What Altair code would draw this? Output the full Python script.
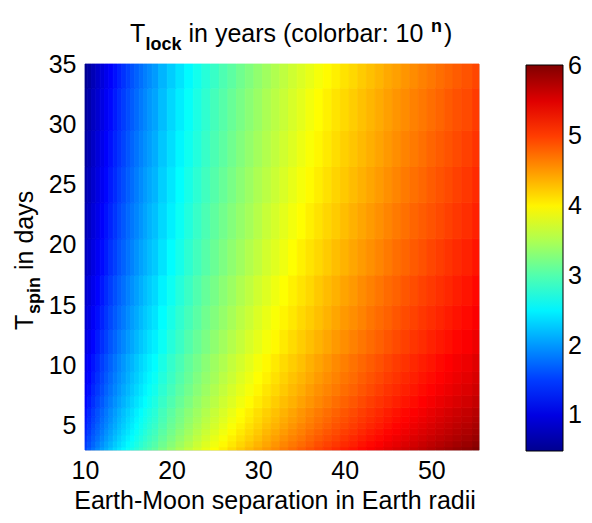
import altair as alt
import pandas as pd

# Earth-Moon separation (Earth radii) at which the colour was read
separation = [10, 10.5, 11, 11.5, 12, 12.5, 13, 13.5, 14, 14.5, 15, 15.5, 16, 16.5,
              17, 17.5, 18, 19, 20, 21, 22, 23, 24, 25, 26, 27, 28, 29, 30, 31,
              32, 33, 34, 35, 36, 38, 40, 42, 44, 46, 48, 50, 52, 54, 55.5]
# extra columns read in between, on the right-hand side
separation_extra = [37, 39, 41, 43, 45, 47, 49, 51, 53]
# T_spin (days) at which the colour was read
spin_days = [3, 3.5, 4, 4.5, 5, 5.5, 6, 7, 8, 9, 10, 12, 14, 16, 19, 22, 25, 28, 31, 35]

log_tlock = [
    [1.55, 1.68, 1.80, 1.92, 2.03, 2.13, 2.24, 2.34, 2.43, 2.52, 2.61, 2.70, 2.78, 2.86, 2.94, 3.01, 3.09, 3.23, 3.36, 3.49, 3.61, 3.72, 3.83, 3.94, 4.04, 4.14, 4.24, 4.33, 4.42, 4.50, 4.58, 4.66, 4.74, 4.82, 4.89, 5.03, 5.17, 5.29, 5.41, 5.53, 5.64, 5.75, 5.85, 5.95, 6.02],
    [1.49, 1.61, 1.73, 1.85, 1.96, 2.07, 2.17, 2.27, 2.36, 2.45, 2.54, 2.63, 2.71, 2.79, 2.87, 2.94, 3.02, 3.16, 3.29, 3.42, 3.54, 3.66, 3.77, 3.87, 3.98, 4.07, 4.17, 4.26, 4.35, 4.43, 4.52, 4.60, 4.68, 4.75, 4.82, 4.97, 5.10, 5.23, 5.35, 5.46, 5.57, 5.68, 5.78, 5.88, 5.95],
    [1.43, 1.56, 1.68, 1.79, 1.90, 2.01, 2.11, 2.21, 2.31, 2.40, 2.49, 2.57, 2.65, 2.73, 2.81, 2.89, 2.96, 3.10, 3.23, 3.36, 3.48, 3.60, 3.71, 3.82, 3.92, 4.02, 4.11, 4.20, 4.29, 4.38, 4.46, 4.54, 4.62, 4.69, 4.77, 4.91, 5.04, 5.17, 5.29, 5.41, 5.52, 5.62, 5.72, 5.82, 5.89],
    [1.38, 1.50, 1.63, 1.74, 1.85, 1.96, 2.06, 2.16, 2.25, 2.35, 2.43, 2.52, 2.60, 2.68, 2.76, 2.84, 2.91, 3.05, 3.18, 3.31, 3.43, 3.55, 3.66, 3.77, 3.87, 3.97, 4.06, 4.15, 4.24, 4.33, 4.41, 4.49, 4.57, 4.64, 4.72, 4.86, 4.99, 5.12, 5.24, 5.35, 5.46, 5.57, 5.67, 5.77, 5.84],
    [1.33, 1.46, 1.58, 1.70, 1.81, 1.91, 2.02, 2.11, 2.21, 2.30, 2.39, 2.47, 2.56, 2.64, 2.71, 2.79, 2.86, 3.00, 3.14, 3.26, 3.39, 3.50, 3.61, 3.72, 3.82, 3.92, 4.01, 4.11, 4.19, 4.28, 4.36, 4.44, 4.52, 4.60, 4.67, 4.81, 4.94, 5.07, 5.19, 5.31, 5.42, 5.53, 5.63, 5.73, 5.80],
    [1.29, 1.42, 1.54, 1.65, 1.77, 1.87, 1.97, 2.07, 2.17, 2.26, 2.35, 2.43, 2.52, 2.60, 2.67, 2.75, 2.82, 2.96, 3.10, 3.22, 3.35, 3.46, 3.57, 3.68, 3.78, 3.88, 3.97, 4.06, 4.15, 4.24, 4.32, 4.40, 4.48, 4.55, 4.63, 4.77, 4.90, 5.03, 5.15, 5.27, 5.38, 5.48, 5.59, 5.68, 5.76],
    [1.25, 1.38, 1.50, 1.62, 1.73, 1.83, 1.94, 2.03, 2.13, 2.22, 2.31, 2.39, 2.48, 2.56, 2.64, 2.71, 2.78, 2.93, 3.06, 3.19, 3.31, 3.42, 3.53, 3.64, 3.74, 3.84, 3.94, 4.03, 4.12, 4.20, 4.28, 4.36, 4.44, 4.52, 4.59, 4.73, 4.86, 4.99, 5.11, 5.23, 5.34, 5.45, 5.55, 5.65, 5.72],
    [1.19, 1.31, 1.43, 1.55, 1.66, 1.77, 1.87, 1.97, 2.06, 2.15, 2.24, 2.33, 2.41, 2.49, 2.57, 2.64, 2.72, 2.86, 2.99, 3.12, 3.24, 3.36, 3.47, 3.57, 3.68, 3.77, 3.87, 3.96, 4.05, 4.13, 4.22, 4.30, 4.37, 4.45, 4.52, 4.66, 4.80, 4.93, 5.05, 5.16, 5.27, 5.38, 5.48, 5.58, 5.65],
    [1.13, 1.25, 1.38, 1.49, 1.60, 1.71, 1.81, 1.91, 2.00, 2.10, 2.18, 2.27, 2.35, 2.43, 2.51, 2.59, 2.66, 2.80, 2.93, 3.06, 3.18, 3.30, 3.41, 3.52, 3.62, 3.72, 3.81, 3.90, 3.99, 4.08, 4.16, 4.24, 4.32, 4.39, 4.47, 4.61, 4.74, 4.87, 4.99, 5.10, 5.21, 5.32, 5.42, 5.52, 5.59],
    [1.08, 1.20, 1.32, 1.44, 1.55, 1.66, 1.76, 1.86, 1.95, 2.04, 2.13, 2.22, 2.30, 2.38, 2.46, 2.53, 2.61, 2.75, 2.88, 3.01, 3.13, 3.25, 3.36, 3.46, 3.57, 3.66, 3.76, 3.85, 3.94, 4.02, 4.11, 4.19, 4.27, 4.34, 4.41, 4.56, 4.69, 4.82, 4.94, 5.05, 5.16, 5.27, 5.37, 5.47, 5.54],
    [1.03, 1.16, 1.28, 1.39, 1.51, 1.61, 1.71, 1.81, 1.91, 2.00, 2.09, 2.17, 2.26, 2.34, 2.41, 2.49, 2.56, 2.70, 2.84, 2.96, 3.09, 3.20, 3.31, 3.42, 3.52, 3.62, 3.71, 3.80, 3.89, 3.98, 4.06, 4.14, 4.22, 4.29, 4.37, 4.51, 4.64, 4.77, 4.89, 5.01, 5.12, 5.22, 5.33, 5.42, 5.50],
    [0.95, 1.08, 1.20, 1.32, 1.43, 1.53, 1.64, 1.73, 1.83, 1.92, 2.01, 2.09, 2.18, 2.26, 2.33, 2.41, 2.48, 2.62, 2.76, 2.88, 3.01, 3.12, 3.23, 3.34, 3.44, 3.54, 3.63, 3.73, 3.81, 3.90, 3.98, 4.06, 4.14, 4.22, 4.29, 4.43, 4.56, 4.69, 4.81, 4.93, 5.04, 5.15, 5.25, 5.35, 5.42],
    [0.88, 1.01, 1.13, 1.25, 1.36, 1.47, 1.57, 1.67, 1.76, 1.85, 1.94, 2.03, 2.11, 2.19, 2.27, 2.34, 2.42, 2.56, 2.69, 2.82, 2.94, 3.05, 3.17, 3.27, 3.37, 3.47, 3.57, 3.66, 3.75, 3.83, 3.92, 4.00, 4.07, 4.15, 4.22, 4.36, 4.50, 4.62, 4.75, 4.86, 4.97, 5.08, 5.18, 5.28, 5.35],
    [0.83, 0.95, 1.07, 1.19, 1.30, 1.41, 1.51, 1.61, 1.70, 1.79, 1.88, 1.97, 2.05, 2.13, 2.21, 2.28, 2.36, 2.50, 2.63, 2.76, 2.88, 3.00, 3.11, 3.21, 3.32, 3.41, 3.51, 3.60, 3.69, 3.77, 3.86, 3.94, 4.02, 4.09, 4.16, 4.31, 4.44, 4.57, 4.69, 4.80, 4.91, 5.02, 5.12, 5.22, 5.29],
    [0.75, 0.88, 1.00, 1.12, 1.23, 1.33, 1.44, 1.53, 1.63, 1.72, 1.81, 1.89, 1.98, 2.06, 2.13, 2.21, 2.28, 2.42, 2.56, 2.68, 2.81, 2.92, 3.03, 3.14, 3.24, 3.34, 3.43, 3.53, 3.61, 3.70, 3.78, 3.86, 3.94, 4.02, 4.09, 4.23, 4.36, 4.49, 4.61, 4.73, 4.84, 4.95, 5.05, 5.15, 5.22],
    [0.69, 0.82, 0.94, 1.05, 1.16, 1.27, 1.37, 1.47, 1.57, 1.66, 1.75, 1.83, 1.91, 1.99, 2.07, 2.15, 2.22, 2.36, 2.49, 2.62, 2.74, 2.86, 2.97, 3.08, 3.18, 3.28, 3.37, 3.46, 3.55, 3.64, 3.72, 3.80, 3.88, 3.95, 4.03, 4.17, 4.30, 4.43, 4.55, 4.67, 4.78, 4.88, 4.98, 5.08, 5.15],
    [0.63, 0.76, 0.88, 1.00, 1.11, 1.21, 1.32, 1.41, 1.51, 1.60, 1.69, 1.77, 1.86, 1.94, 2.02, 2.09, 2.16, 2.31, 2.44, 2.57, 2.69, 2.80, 2.91, 3.02, 3.12, 3.22, 3.32, 3.41, 3.50, 3.58, 3.66, 3.74, 3.82, 3.90, 3.97, 4.11, 4.24, 4.37, 4.49, 4.61, 4.72, 4.83, 4.93, 5.03, 5.10],
    [0.58, 0.71, 0.83, 0.95, 1.06, 1.16, 1.27, 1.37, 1.46, 1.55, 1.64, 1.73, 1.81, 1.89, 1.97, 2.04, 2.12, 2.26, 2.39, 2.52, 2.64, 2.75, 2.86, 2.97, 3.07, 3.17, 3.27, 3.36, 3.45, 3.53, 3.61, 3.69, 3.77, 3.85, 3.92, 4.06, 4.20, 4.32, 4.44, 4.56, 4.67, 4.78, 4.88, 4.98, 5.05],
    [0.54, 0.67, 0.79, 0.90, 1.01, 1.12, 1.22, 1.32, 1.42, 1.51, 1.60, 1.68, 1.76, 1.84, 1.92, 2.00, 2.07, 2.21, 2.35, 2.47, 2.59, 2.71, 2.82, 2.93, 3.03, 3.13, 3.22, 3.31, 3.40, 3.49, 3.57, 3.65, 3.73, 3.80, 3.88, 4.02, 4.15, 4.28, 4.40, 4.52, 4.63, 4.73, 4.84, 4.93, 5.01],
    [0.49, 0.61, 0.73, 0.85, 0.96, 1.07, 1.17, 1.27, 1.36, 1.45, 1.54, 1.63, 1.71, 1.79, 1.87, 1.94, 2.02, 2.16, 2.29, 2.42, 2.54, 2.66, 2.77, 2.87, 2.98, 3.07, 3.17, 3.26, 3.35, 3.43, 3.52, 3.60, 3.68, 3.75, 3.82, 3.97, 4.10, 4.23, 4.35, 4.46, 4.57, 4.68, 4.78, 4.88, 4.95],
]

# log10(T_lock / years) at the separation_extra columns, one row per spin_days entry
log_tlock_extra = [
    [4.96, 5.10, 5.23, 5.35, 5.47, 5.59, 5.69, 5.80, 5.90],
    [4.90, 5.03, 5.16, 5.29, 5.41, 5.52, 5.63, 5.73, 5.83],
    [4.84, 4.97, 5.11, 5.23, 5.35, 5.46, 5.57, 5.67, 5.77],
    [4.79, 4.92, 5.05, 5.18, 5.30, 5.41, 5.52, 5.62, 5.72],
    [4.74, 4.88, 5.01, 5.13, 5.25, 5.36, 5.47, 5.58, 5.68],
    [4.70, 4.84, 4.97, 5.09, 5.21, 5.32, 5.43, 5.54, 5.64],
    [4.66, 4.80, 4.93, 5.05, 5.17, 5.29, 5.39, 5.50, 5.60],
    [4.59, 4.73, 4.86, 4.99, 5.10, 5.22, 5.33, 5.43, 5.53],
    [4.54, 4.67, 4.80, 4.93, 5.05, 5.16, 5.27, 5.37, 5.47],
    [4.49, 4.62, 4.75, 4.88, 5.00, 5.11, 5.22, 5.32, 5.42],
    [4.44, 4.58, 4.71, 4.83, 4.95, 5.06, 5.17, 5.28, 5.38],
    [4.36, 4.50, 4.63, 4.75, 4.87, 4.98, 5.09, 5.20, 5.30],
    [4.29, 4.43, 4.56, 4.69, 4.80, 4.92, 5.03, 5.13, 5.23],
    [4.24, 4.37, 4.50, 4.63, 4.75, 4.86, 4.97, 5.07, 5.17],
    [4.16, 4.30, 4.43, 4.55, 4.67, 4.78, 4.89, 5.00, 5.10],
    [4.10, 4.23, 4.37, 4.49, 4.61, 4.72, 4.83, 4.93, 5.03],
    [4.04, 4.18, 4.31, 4.43, 4.55, 4.67, 4.77, 4.88, 4.98],
    [3.99, 4.13, 4.26, 4.38, 4.50, 4.62, 4.72, 4.83, 4.93],
    [3.95, 4.09, 4.22, 4.34, 4.46, 4.57, 4.68, 4.78, 4.89],
    [3.90, 4.03, 4.16, 4.29, 4.41, 4.52, 4.63, 4.73, 4.83],
]

x_ticks = [10, 20, 30, 40, 50]
y_ticks = [5, 10, 15, 20, 25, 30, 35]
bar_ticks = [1, 2, 3, 4, 5, 6]

assert len(log_tlock) == len(spin_days) == len(log_tlock_extra)
assert all(len(r) == len(separation) for r in log_tlock)
assert all(len(r) == len(separation_extra) for r in log_tlock_extra)

FONT = "Liberation Sans"
FS = 25

# merge the two sets of columns, ordered by separation
columns = sorted(separation + separation_extra)
table = []
for i in range(len(spin_days)):
    row = dict(zip(separation, log_tlock[i]))
    row.update(zip(separation_extra, log_tlock_extra[i]))
    table.append([row[a] for a in columns])


def edges(c):
    mids = [(a + b) / 2 for a, b in zip(c[:-1], c[1:])]
    return [c[0]] + mids + [c[-1]]


xe = edges(columns)
ye = edges(spin_days)
rows = []
for i, _ in enumerate(spin_days):
    for j, _ in enumerate(columns):
        v = table[i][j]
        rows.append({"x": xe[j], "x2": xe[j + 1], "y": ye[i], "y2": ye[i + 1],
                     "v": v, "edge": v})
df = pd.DataFrame(rows)

vmin = min(min(r) for r in table)
vmax = max(max(r) for r in table)
jet_stops = [vmin + f * (vmax - vmin) for f in (0, 1 / 8, 3 / 8, 5 / 8, 7 / 8, 1)]
jet_colors = ["#00008f", "#0000ff", "#00ffff", "#ffff00", "#ff0000", "#800000"]

fill_scale = alt.Scale(domain=jet_stops, range=jet_colors, interpolate="rgb")
# seam-hiding outline: same colours, a distinct (imperceptibly shifted) domain so that
# Vega-Lite does not merge it into the colour-bar legend
edge_scale = alt.Scale(domain=[s * (1 + 1e-9) for s in jet_stops], range=jet_colors,
                       interpolate="rgb")

heat = alt.Chart(df).mark_rect(strokeWidth=0.8).encode(
    x=alt.X("x:Q", scale=alt.Scale(domain=[columns[0], columns[-1]], nice=False, zero=False),
            axis=alt.Axis(values=x_ticks, title=None,
                          labelFontSize=FS, labelFont=FONT, labelColor="black",
                          ticks=False, domain=False, grid=False, labelPadding=8,
                          labelFlush=False, labelOverlap=False)),
    x2="x2:Q",
    y=alt.Y("y:Q", scale=alt.Scale(domain=[spin_days[0], spin_days[-1]], nice=False, zero=False),
            axis=alt.Axis(values=y_ticks, title=None,
                          labelFontSize=FS, labelFont=FONT, labelColor="black",
                          ticks=False, domain=False, grid=False, labelPadding=9,
                          labelFlush=False, labelOverlap=False)),
    y2="y2:Q",
    color=alt.Color("v:Q", scale=fill_scale,
                    legend=alt.Legend(type="gradient", orient="none", legendX=441, legendY=1,
                                      direction="vertical", title=None,
                                      values=bar_ticks, gradientLength=386,
                                      gradientThickness=37,
                                      gradientStrokeColor="black",
                                      gradientStrokeWidth=1,
                                      labelFontSize=FS, labelFont=FONT,
                                      labelColor="black", labelOffset=5,
                                      labelOverlap=False)),
    stroke=alt.Stroke("edge:Q", scale=edge_scale, legend=None),
)


def txt(s, x, y, size=FS, weight="normal", angle=0, align="left"):
    return alt.Chart(pd.DataFrame({"t": [s]})).mark_text(
        align=align, baseline="alphabetic", fontSize=size, font=FONT,
        fontWeight=weight, angle=angle, color="black"
    ).encode(x=alt.value(x), y=alt.value(y), text="t:N")


title_parts = [
    txt("T", 45, -22),
    txt("lock", 60.5, -14, size=18, weight="bold"),
    txt("in years (colorbar: 10", 103.5, -22),
    txt("n", 346, -32, size=18, weight="bold"),
    txt(")", 359, -22),
]
ylabel_parts = [
    txt("T", -52, 266, angle=270),
    txt("spin", -45, 250, size=18, weight="bold", angle=270),
    txt("in days", -52, 206, angle=270),
]
xlabel = txt("Earth-Moon separation in Earth radii", 190, 445, align="center")

chart = alt.layer(heat, *title_parts, *ylabel_parts, xlabel).properties(
    width=394, height=386,
    autosize="none",
    padding={"left": 77, "top": 56, "right": 105, "bottom": 64},
).configure_view(strokeWidth=0).configure(background="white")

chart.save("out.html", embed_options={"renderer": "svg", "actions": False})
